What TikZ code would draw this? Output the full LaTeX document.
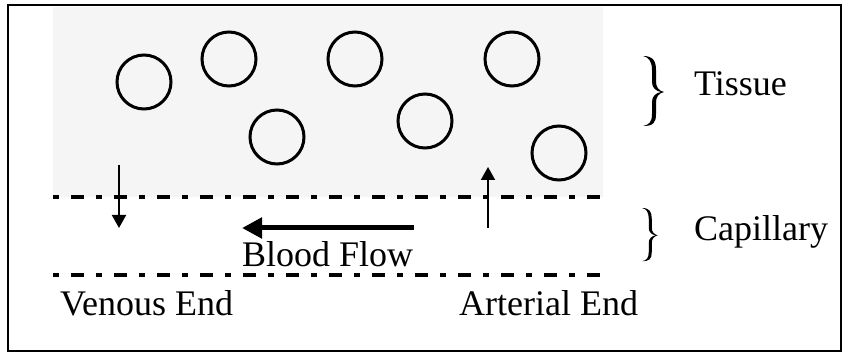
\documentclass[tikz,border=0pt]{standalone}
\usepackage{fontspec}
\setmainfont{Liberation Serif}
\usepackage{tikz}
\usetikzlibrary{arrows.meta}

\tikzset{
  cell/.style={draw, circle, line width=3pt, minimum size=54pt, inner sep=0pt},
  wall/.style={line width=4pt, dash pattern=on 6pt off 12pt on 13pt off 12pt},
  flux/.style={line width=2pt, -{Triangle[width=14pt,length=13pt]}},
  label/.style={inner sep=0pt, anchor=base west, font=\fontsize{36}{40}\selectfont}
}

% parentesi graffa disegnata a mano
\newcommand{\curlybrace}[1]{%
  \begin{scope}[#1]
    \fill (0,0) .. controls (10,0) and (13,5) .. (13,14) -- (13,26)
          .. controls (13,31) and (16,35) .. (21,36)
          .. controls (16,37) and (13,41) .. (13,46) -- (13,58)
          .. controls (13,67) and (10,70) .. (0,70)
          .. controls (6,69) and (9,66) .. (9,58) -- (9,46)
          .. controls (9,40) and (13,37) .. (18,36)
          .. controls (13,35) and (9,32) .. (9,26) -- (9,14)
          .. controls (9,6) and (6,1) .. (0,0) -- cycle;
  \end{scope}}

\begin{document}
\begin{tikzpicture}[x=1pt, y=-1pt]
        \useasboundingbox (0,0) rectangle (843,352);
        % Cornice
        \draw[line width=2pt] (8,5) rectangle (841,351);

        % Tessuto
        \fill[black!4] (53,7) rectangle (603,197);
        \foreach \n/\x/\y in {cellA/144/82, cellB/229/59, cellC/355/59, cellD/277/137,
                              cellE/425/121, cellF/512/59, cellG/559/153}
            \node[cell] (\n) at (\x,\y) {};

        % Pareti del capillare
        \coordinate (wallTL) at (53,197);
        \coordinate (wallTR) at (603,197);
        \coordinate (wallBL) at (53,275);
        \coordinate (wallBR) at (603,275);
        \draw[wall] (wallTL) -- (wallTR);
        \draw[wall] (wallBL) -- (wallBR);

        % Scambi
        \coordinate (venTop) at (119,165);
        \coordinate (venBot) at (119,228);
        \coordinate (artBot) at (488,228);
        \coordinate (artTop) at (488,167);
        \draw[flux] (venTop) -- (venBot);
        \draw[flux] (artBot) -- (artTop);

        % Flusso
        \coordinate (flowStart) at (414,228);
        \coordinate (flowEnd) at (242,228);
        \draw[line width=5pt, -{Triangle[width=20pt,length=20pt]}] (flowStart) -- (flowEnd);
        \node[label] (flow) at (242,267) {Blood Flow};

        % Estremi
        \node[label] (venous) at (60,316) {Venous End};
        \node[label] (arterial) at (459,316) {Arterial End};

        % Annotazioni
        \curlybrace{shift={(643,56)}}
        \node[label] (tissue) at (694,96) {Tissue};
        \curlybrace{shift={(642,208)}, xscale=0.75, yscale=0.76}
        \node[label] (capillary) at (694,241) {Capillary};
    \end{tikzpicture}
\end{document}
